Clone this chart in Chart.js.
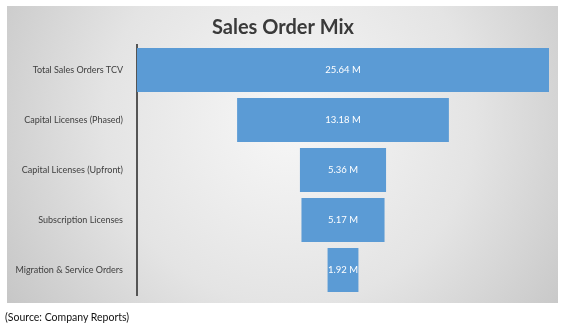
<!DOCTYPE html>
<html>
<head>
<meta charset="utf-8">
<script src="https://cdn.jsdelivr.net/npm/chart.js@4"></script>
<style>
    html, body { margin: 0; padding: 0; background: #fff; }
    #wrap { position: relative; width: 566px; height: 329px; }
    #source {
        position: absolute; left: 5px; top: 311px;
        font-family: Lato, 'Open Sans', sans-serif; font-size: 10.5px; color: #111;
    }
</style>
</head>
<body>
<div id="wrap">
    <canvas id="funnel" width="566" height="329"></canvas>
    <div id="source">(Source: Company Reports)</div>
</div>
<script>
// Sales order stages and values (millions)
const stages = [
    'Total Sales Orders TCV',
    'Capital Licenses (Phased)',
    'Capital Licenses (Upfront)',
    'Subscription Licenses',
    'Migration & Service Orders'
];
const orderValues = [25.64, 13.18, 5.36, 5.17, 1.92];
const chartTitle = 'Sales Order Mix';

const fontFamily = "Lato, 'Open Sans', sans-serif";
const barColor = '#5b9bd5';

// Funnel: each bar floats around the middle of the largest value
const maxValue = Math.max(...orderValues);
const middle = maxValue / 2;
const funnelRanges = orderValues.map(v => [middle - v / 2, middle + v / 2]);

// Grey gradient panel behind the chart, with the title on top of it
const panelBackground = {
    id: 'panelBackground',
    beforeDraw(chart) {
        const ctx = chart.ctx;
        ctx.save();
        ctx.fillStyle = '#fff';
        ctx.fillRect(0, 0, chart.width, chart.height);
        const g = ctx.createRadialGradient(290, 120, 10, 290, 120, 360);
        g.addColorStop(0, '#f6f6f6');
        g.addColorStop(0.5, '#e4e4e4');
        g.addColorStop(1, '#c2c2c2');
        ctx.fillStyle = g;
        ctx.fillRect(7, 6, 551, 297);

        ctx.font = 'bold 20px ' + fontFamily;
        ctx.fillStyle = '#3a3a3a';
        ctx.textAlign = 'center';
        ctx.textBaseline = 'middle';
        ctx.fillText(chartTitle, 283, 28);
        ctx.restore();
    }
};

// Value labels inside the bars
const barLabels = {
    id: 'barLabels',
    afterDatasetsDraw(chart) {
        const ctx = chart.ctx;
        const meta = chart.getDatasetMeta(0);
        ctx.save();
        ctx.font = '9.5px ' + fontFamily;
        ctx.fillStyle = '#ffffff';
        ctx.textAlign = 'center';
        ctx.textBaseline = 'middle';
        meta.data.forEach((bar, i) => {
            const cx = (bar.x + bar.base) / 2;
            ctx.fillText(orderValues[i].toFixed(2) + ' M', cx, bar.y);
        });
        ctx.restore();
    }
};

new Chart(document.getElementById('funnel').getContext('2d'), {
    type: 'bar',
    data: {
        labels: stages,
        datasets: [{
            data: funnelRanges,
            backgroundColor: barColor,
            borderWidth: 0,
            barPercentage: 0.88,
            categoryPercentage: 1.0
        }]
    },
    options: {
        indexAxis: 'y',
        responsive: false,
        animation: false,
        layout: { padding: { left: 8, right: 17, top: 45, bottom: 34 } },
        plugins: {
            legend: { display: false },
            tooltip: { enabled: false },
            title: { display: false }
        },
        scales: {
            x: {
                display: false,
                min: 0,
                max: maxValue
            },
            y: {
                grid: { display: false },
                border: { display: true, color: '#555', width: 2 },
                ticks: {
                    color: '#404040',
                    padding: 6,
                    font: { family: fontFamily, size: 9 }
                },
                afterFit(scale) { scale.width = 129; }
            }
        }
    },
    plugins: [panelBackground, barLabels]
});
</script>
</body>
</html>
